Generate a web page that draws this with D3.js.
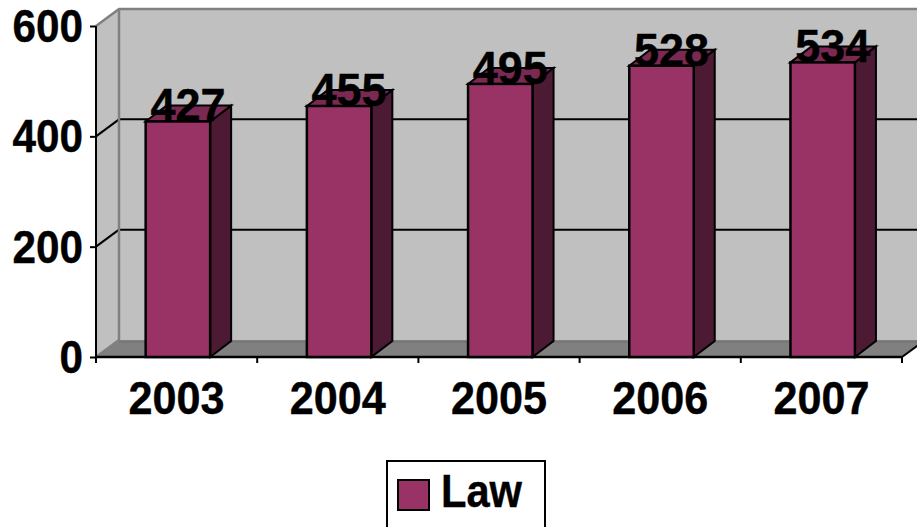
<!DOCTYPE html>
<html>
  <head>
    <meta charset="utf-8">
    <title>Law</title>
    <script src="https://cdn.jsdelivr.net/npm/d3@7"></script>
    <style>
      html, body { margin: 0; padding: 0; background: #fff; overflow: hidden; }
      text { font-family: "Liberation Sans", Arial, sans-serif; font-weight: bold; fill: #000; stroke: #000; stroke-width: .4; }
      .axis path { display: none; }
      .axis line { stroke: #000; stroke-width: 2; }
    </style>
  </head>
  <body>
    <svg id="chart" width="917" height="527"></svg>

    <script>
      // data
      var years = ["2003", "2004", "2005", "2006", "2007"];
      var lawValues = [427, 455, 495, 528, 534];
      var yTicks = [0, 200, 400, 600];
      var seriesName = "Law";

      // chart
      var width = 917, height = 527;
      var depthX = 23, depthY = -17;       // offset of the back wall
      var barDepthX = 21, barDepthY = -16; // offset of the bar's back face
      var barShift = 1.3;
      var fontSize = 46;

      var svg = d3.select("#chart");

      var x = d3.scaleBand()
        .domain(years)
        .range([96, 902])
        .paddingInner(.6)
        .paddingOuter(.3);
      var y = d3.scaleLinear()
        .domain([0, 600])
        .range([357, 26]);

      var left = x.range()[0], right = x.range()[1];
      var bottom = y(0), top_ = y(600);

      // the reference's type is tall and narrow, so squeeze it to the measured width
      function squeeze(selection, perChar) {
        selection
          .attr("font-size", fontSize)
          .attr("font-family", null)
          .attr("lengthAdjust", "spacingAndGlyphs")
          .attr("textLength", function() { return this.textContent.length * perChar; });
      }

      // walls and floor
      svg.append("rect")
        .attr("x", left + depthX)
        .attr("y", top_ + depthY)
        .attr("width", width)
        .attr("height", bottom - top_)
        .attr("fill", "#c0c0c0");
      svg.append("polygon")
        .attr("points", [[left, top_], [left + depthX, top_ + depthY], [left + depthX, bottom + depthY], [left, bottom]].join(" "))
        .attr("fill", "#c0c0c0");
      svg.append("polygon")
        .attr("points", [[left, bottom], [left + depthX, bottom + depthY], [right + depthX, bottom + depthY], [right, bottom]].join(" "))
        .attr("fill", "#808080");

      // gridlines
      var grid = yTicks.filter(function(d) { return d > 0 && d < 600; });
      svg.selectAll(".gridBack")
          .data(grid)
        .enter().append("line")
          .attr("x1", left + depthX)
          .attr("x2", width)
          .attr("y1", function(d) { return y(d) + depthY; })
          .attr("y2", function(d) { return y(d) + depthY; })
          .attr("stroke", "#000")
          .attr("stroke-width", 2);
      svg.selectAll(".gridSide")
          .data(grid)
        .enter().append("line")
          .attr("x1", left)
          .attr("x2", left + depthX)
          .attr("y1", function(d) { return y(d); })
          .attr("y2", function(d) { return y(d) + depthY; })
          .attr("stroke", "#000")
          .attr("stroke-width", 2);

      // gray wall edges
      svg.append("path")
        .attr("d", d3.line()([[left, top_], [left + depthX, top_ + depthY], [width, top_ + depthY]]))
        .attr("fill", "none")
        .attr("stroke", "#808080")
        .attr("stroke-width", 2.5);
      svg.append("path")
        .attr("d", d3.line()([[left, bottom], [left + depthX, bottom + depthY], [left + depthX, top_ + depthY]]))
        .attr("fill", "none")
        .attr("stroke", "#808080")
        .attr("stroke-width", 2.5);
      svg.append("line")
        .attr("x1", left + depthX)
        .attr("x2", width)
        .attr("y1", bottom + depthY + 2)
        .attr("y2", bottom + depthY + 2)
        .attr("stroke", "#707070")
        .attr("stroke-width", 1);

      // floor's right edge, black in front
      svg.append("line")
        .attr("x1", right)
        .attr("y1", bottom)
        .attr("x2", right + depthX)
        .attr("y2", bottom + depthY)
        .attr("stroke", "#000")
        .attr("stroke-width", 2);

      // axes
      var yAxis = d3.axisLeft(y)
        .tickValues(yTicks)
        .tickSize(6)
        .tickPadding(7);
      var yAxisGroup = svg.append("g")
        .attr("class", "axis")
        .attr("transform", "translate(" + left + ", 0)")
        .call(yAxis);
      yAxisGroup.selectAll("text")
        .attr("dy", "0.34em")
        .call(squeeze, 23.5);

      var xAxis = d3.axisBottom(x)
        .tickSize(0)
        .tickPadding(24);
      var xAxisGroup = svg.append("g")
        .attr("class", "axis")
        .attr("transform", "translate(0, " + bottom + ")")
        .call(xAxis);
      xAxisGroup.selectAll("text")
        .call(squeeze, 24);

      // x tick marks sit between the categories
      svg.selectAll(".xTick")
          .data(d3.range(years.length + 1))
        .enter().append("line")
          .attr("x1", function(d) { return left + d * x.step(); })
          .attr("x2", function(d) { return left + d * x.step(); })
          .attr("y1", bottom)
          .attr("y2", bottom + 6)
          .attr("stroke", "#000")
          .attr("stroke-width", 2);

      svg.append("line")
        .attr("x1", left)
        .attr("x2", left)
        .attr("y1", top_)
        .attr("y2", bottom)
        .attr("stroke", "#000")
        .attr("stroke-width", 2);
      svg.append("line")
        .attr("x1", left)
        .attr("x2", right)
        .attr("y1", bottom)
        .attr("y2", bottom)
        .attr("stroke", "#000")
        .attr("stroke-width", 2.5);

      // bars
      var bars = svg.selectAll(".bar")
          .data(lawValues)
        .enter().append("g")
          .attr("class", "bar");

      function barX(i) { return x(years[i]) + barShift; }

      bars.append("polygon")
        .attr("points", function(d, i) {
          var x1 = barX(i) + x.bandwidth();
          return [[x1, y(d)], [x1 + barDepthX, y(d) + barDepthY], [x1 + barDepthX, bottom + barDepthY], [x1, bottom]].join(" ");
        })
        .attr("fill", "#4d1a33")
        .attr("stroke", "#000")
        .attr("stroke-width", 2);
      bars.append("polygon")
        .attr("points", function(d, i) {
          var x0 = barX(i), x1 = x0 + x.bandwidth();
          return [[x0, y(d)], [x0 + barDepthX, y(d) + barDepthY], [x1 + barDepthX, y(d) + barDepthY], [x1, y(d)]].join(" ");
        })
        .attr("fill", "#7a2952")
        .attr("stroke", "#000")
        .attr("stroke-width", 2);
      bars.append("rect")
        .attr("x", function(d, i) { return barX(i); })
        .attr("y", function(d) { return y(d); })
        .attr("width", x.bandwidth())
        .attr("height", function(d) { return bottom - y(d); })
        .attr("fill", "#993366")
        .attr("stroke", "#000")
        .attr("stroke-width", 2.5);

      // data labels
      svg.selectAll(".valueLabel")
          .data(lawValues)
        .enter().append("text")
          .attr("class", "valueLabel")
          .attr("x", function(d, i) { return barX(i) + x.bandwidth() / 2 + 10; })
          .attr("y", function(d) { return y(d); })
          .attr("text-anchor", "middle")
          .text(function(d) { return d; })
          .call(squeeze, 25);

      // legend
      svg.append("rect")
        .attr("x", 387)
        .attr("y", 461)
        .attr("width", 158)
        .attr("height", 90)
        .attr("fill", "#fff")
        .attr("stroke", "#000")
        .attr("stroke-width", 2);
      svg.append("rect")
        .attr("x", 398)
        .attr("y", 480)
        .attr("width", 31)
        .attr("height", 30)
        .attr("fill", "#993366")
        .attr("stroke", "#000")
        .attr("stroke-width", 2);
      svg.append("text")
        .attr("x", 441)
        .attr("y", 507)
        .text(seriesName)
        .call(squeeze, 27);
    </script>
  </body>
</html>
